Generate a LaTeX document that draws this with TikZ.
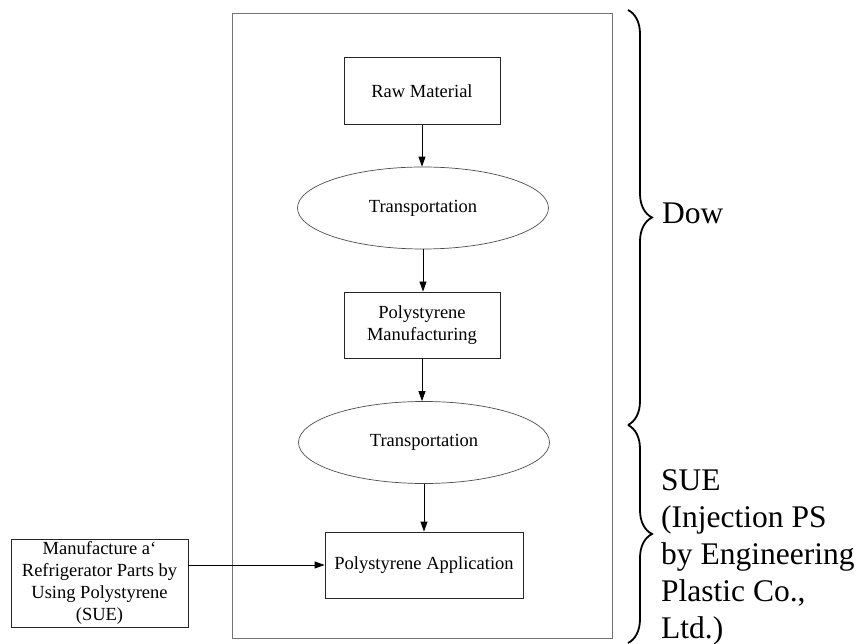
\documentclass[tikz,border=0pt]{standalone}
\usepackage{fontspec}
\setmainfont{Liberation Serif}
\usetikzlibrary{shapes.geometric}
\usetikzlibrary{arrows.meta}
\usetikzlibrary{decorations.pathreplacing}
\usetikzlibrary{positioning}
\newcommand\flowfont{\fontsize{18.5}{22}\selectfont}
\newcommand\sidefont{\fontsize{31.5}{37}\selectfont}
\tikzset{%
  stepbox/.style={rectangle,draw=black!85,line width=0.8pt,align=center,inner sep=0pt,font=\flowfont}
}
\tikzset{%
  moveoval/.style={ellipse,draw=black!70,line width=0.7pt,minimum width=251pt,minimum height=82pt,inner sep=0pt,font=\flowfont}
}
\tikzset{%
  flowarrow/.style={-{Triangle[length=10pt,width=7pt]},line width=0.8pt},
  bracket/.style={decorate,decoration={brace,amplitude=24pt},line width=1.8pt}
}

\begin{document}
\begin{tikzpicture}[x=1pt,y=-1pt]
            \useasboundingbox (0,0) rectangle (857,644);
            \node[draw=black!55,line width=0.9pt,minimum width=380pt,minimum height=625pt,inner sep=0pt](dowframe) at (422,325.5){};

            \node[stepbox,minimum width=156pt,minimum height=67pt](raw) at (422,91){Raw Material};
            \node[moveoval](transa) at (423,208){Transportation};
            \node[stepbox,minimum width=156pt,minimum height=66pt](psman) at (422,325){Polystyrene\\Manufacturing};
            \node[moveoval](transb) at (424,442.5){Transportation};
            \node[stepbox,minimum width=198pt,minimum height=66pt](psapp) at (424,565){Polystyrene Application};
            \node[stepbox,minimum width=177pt,minimum height=88pt](suebox) at (99.5,583){Manufacture a`\\Refrigerator Parts by\\Using Polystyrene\\(SUE)};

            \draw[flowarrow] (raw.south) -- (raw.south |- transa.north);
            \draw[flowarrow] (transa.south) -- (transa.south |- psman.north);
            \draw[flowarrow] (psman.south) -- (psman.south |- transb.north);
            \draw[flowarrow] (transb.south) -- (transb.south |- psapp.north);
            \draw[flowarrow] (suebox.east |- psapp.west) -- (psapp.west);

            \coordinate (dowtop) at (628,10);
            \coordinate (dowbot) at (628,425);
            \coordinate (suebot) at (628,643);
            \draw[bracket] (dowtop) -- (dowbot);
            \draw[bracket] (dowbot) -- (suebot);

            \node[anchor=west,inner sep=0pt,font=\sidefont](dowlabel) at (662,213){Dow};
            \node[anchor=north west,inner sep=0pt,align=left,font=\sidefont](suelabel) at (661,469){SUE\\(Injection PS\\by Engineering\\Plastic Co.,\\Ltd.)};
        \end{tikzpicture}
\end{document}
